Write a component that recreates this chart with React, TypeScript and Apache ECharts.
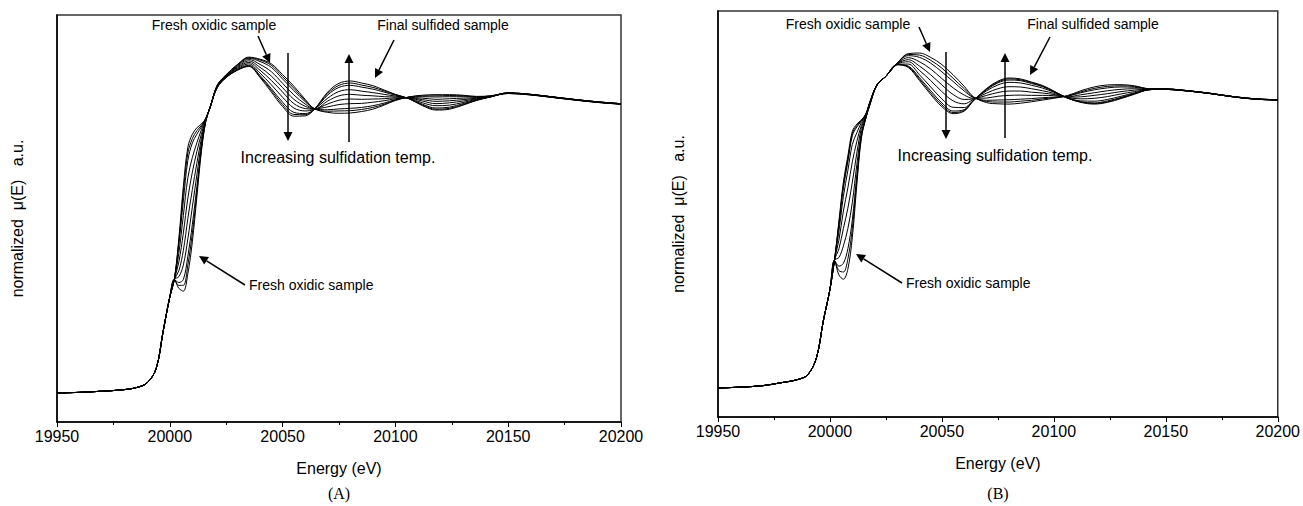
import React, { useEffect, useRef } from "react";
import * as echarts from "echarts";

// Energy grid (eV) shared by all spectra
const energies = [
  19950, 19960, 19970, 19978, 19985, 19990, 19994, 19997, 20000, 20002,
  20004, 20006, 20008, 20010, 20012, 20014, 20016, 20018, 20021, 20025,
  20030, 20035, 20040, 20045, 20050, 20055, 20060, 20064, 20070, 20075,
  20080, 20085, 20090, 20095, 20100, 20106, 20112, 20118, 20124, 20130,
  20136, 20142, 20150, 20160, 20170, 20180, 20190, 20200,
];

const xTicks = [19950, 20000, 20050, 20100, 20150, 20200];

// ---------- Panel A: normalized mu(E) ----------
const preEdgeA = [0.0, 0.002, 0.006, 0.01, 0.018, 0.035, 0.085, 0.21, 0.33, 0.39];
const aFresh = [...preEdgeA,
  0.36, 0.35, 0.41, 0.52, 0.674, 0.83, 0.935, 0.985, 1.058, 1.095,
  1.13, 1.155, 1.148, 1.132, 1.095, 1.055, 1.01, 0.978, 0.965, 0.962,
  0.963, 0.968, 0.976, 0.99, 1.006, 1.018, 1.024, 1.026, 1.026, 1.024,
  1.02, 1.022, 1.032, 1.027, 1.018, 1.009, 1.001, 0.995];
const aT0 = [...preEdgeA,
  0.37, 0.37, 0.44, 0.55, 0.69, 0.838, 0.937, 0.985, 1.058, 1.094,
  1.129, 1.153, 1.145, 1.127, 1.088, 1.048, 1.006, 0.978, 0.969, 0.97,
  0.971, 0.975, 0.982, 0.993, 1.007, 1.018, 1.022, 1.022, 1.023, 1.022,
  1.019, 1.021, 1.031, 1.026, 1.017, 1.008, 1.0, 0.994];
const aT1 = [...preEdgeA,
  0.38, 0.39, 0.47, 0.58, 0.71, 0.845, 0.938, 0.985, 1.057, 1.093,
  1.127, 1.151, 1.14, 1.12, 1.08, 1.04, 1.002, 0.978, 0.974, 0.977,
  0.979, 0.982, 0.988, 0.997, 1.009, 1.017, 1.019, 1.018, 1.019, 1.019,
  1.018, 1.021, 1.031, 1.026, 1.017, 1.008, 1.0, 0.994];
const aT2 = [...preEdgeA,
  0.4, 0.44, 0.53, 0.64, 0.75, 0.86, 0.94, 0.986, 1.056, 1.091,
  1.124, 1.147, 1.13, 1.105, 1.065, 1.025, 0.994, 0.977, 0.984, 0.992,
  0.995, 0.996, 1.0, 1.005, 1.012, 1.016, 1.014, 1.01, 1.012, 1.014,
  1.016, 1.02, 1.03, 1.025, 1.016, 1.007, 0.999, 0.993];
const aT3 = [...preEdgeA,
  0.42, 0.49, 0.6, 0.7, 0.79, 0.875, 0.941, 0.986, 1.055, 1.09,
  1.121, 1.142, 1.12, 1.09, 1.05, 1.01, 0.986, 0.977, 0.994, 1.007,
  1.011, 1.01, 1.011, 1.012, 1.015, 1.015, 1.009, 1.003, 1.005, 1.009,
  1.014, 1.02, 1.03, 1.025, 1.016, 1.007, 0.999, 0.993];
const aT4 = [...preEdgeA,
  0.45, 0.55, 0.67, 0.76, 0.83, 0.89, 0.942, 0.986, 1.054, 1.089,
  1.118, 1.137, 1.11, 1.075, 1.035, 0.995, 0.978, 0.976, 1.004, 1.022,
  1.027, 1.024, 1.022, 1.019, 1.018, 1.015, 1.004, 0.995, 0.998, 1.004,
  1.012, 1.019, 1.031, 1.026, 1.017, 1.008, 1.0, 0.994];
const aT5 = [...preEdgeA,
  0.48, 0.61, 0.74, 0.81, 0.86, 0.905, 0.943, 0.986, 1.052, 1.087,
  1.115, 1.132, 1.1, 1.06, 1.017, 0.98, 0.97, 0.976, 1.014, 1.037,
  1.043, 1.038, 1.033, 1.027, 1.021, 1.014, 0.998, 0.988, 0.99, 0.999,
  1.01, 1.018, 1.031, 1.026, 1.017, 1.008, 1.0, 0.994];
const aT6 = [...preEdgeA,
  0.51, 0.66, 0.8, 0.86, 0.89, 0.915, 0.944, 0.986, 1.051, 1.086,
  1.112, 1.127, 1.092, 1.047, 1.0, 0.965, 0.961, 0.975, 1.025, 1.051,
  1.058, 1.052, 1.045, 1.035, 1.024, 1.013, 0.993, 0.98, 0.983, 0.995,
  1.008, 1.018, 1.032, 1.027, 1.018, 1.009, 1.001, 0.995];
const aT7 = [...preEdgeA,
  0.52, 0.69, 0.825, 0.875, 0.902, 0.92, 0.945, 0.986, 1.05, 1.085,
  1.111, 1.125, 1.088, 1.041, 0.992, 0.958, 0.957, 0.975, 1.03, 1.058,
  1.066, 1.059, 1.051, 1.039, 1.026, 1.012, 0.99, 0.976, 0.979, 0.992,
  1.007, 1.018, 1.032, 1.027, 1.018, 1.009, 1.001, 0.995];
const aFinal = [...preEdgeA,
  0.53, 0.71, 0.845, 0.89, 0.912, 0.925, 0.945, 0.986, 1.05, 1.085,
  1.11, 1.123, 1.085, 1.035, 0.985, 0.952, 0.953, 0.975, 1.035, 1.065,
  1.073, 1.066, 1.057, 1.042, 1.027, 1.012, 0.988, 0.973, 0.976, 0.99,
  1.006, 1.018, 1.032, 1.027, 1.018, 1.009, 1.001, 0.995];

// ---------- Panel B: normalized mu(E) ----------
const preEdgeB = [0.0, 0.003, 0.008, 0.018, 0.028, 0.045, 0.105, 0.23, 0.34, 0.44];
const bFresh = [...preEdgeB,
  0.39, 0.375, 0.41, 0.52, 0.7, 0.86, 0.93, 0.98, 1.045, 1.075,
  1.12, 1.153, 1.155, 1.14, 1.115, 1.08, 1.04, 1.005, 0.984, 0.98,
  0.979, 0.982, 0.987, 0.993, 0.999, 1.008, 1.025, 1.038, 1.045, 1.046,
  1.042, 1.032, 1.03, 1.024, 1.015, 1.004, 0.996, 0.993];
const bT0 = [...preEdgeB,
  0.405, 0.4, 0.445, 0.55, 0.718, 0.865, 0.93, 0.981, 1.045, 1.075,
  1.12, 1.15, 1.148, 1.13, 1.103, 1.068, 1.032, 1.003, 0.988, 0.986,
  0.986, 0.989, 0.992, 0.997, 1.001, 1.007, 1.021, 1.033, 1.04, 1.042,
  1.04, 1.032, 1.03, 1.024, 1.015, 1.004, 0.996, 0.993];
const bT1 = [...preEdgeB,
  0.42, 0.43, 0.48, 0.58, 0.735, 0.87, 0.93, 0.982, 1.045, 1.075,
  1.119, 1.146, 1.14, 1.12, 1.09, 1.057, 1.024, 1.002, 0.992, 0.993,
  0.994, 0.996, 0.998, 1.001, 1.003, 1.006, 1.018, 1.028, 1.035, 1.038,
  1.037, 1.031, 1.03, 1.024, 1.015, 1.004, 0.996, 0.993];
const bT2 = [...preEdgeB,
  0.45, 0.49, 0.55, 0.64, 0.77, 0.88, 0.933, 0.984, 1.045, 1.075,
  1.118, 1.139, 1.125, 1.1, 1.067, 1.035, 1.01, 0.999, 1.0, 1.006,
  1.009, 1.01, 1.009, 1.009, 1.008, 1.004, 1.011, 1.018, 1.025, 1.03,
  1.032, 1.03, 1.03, 1.024, 1.015, 1.004, 0.996, 0.993];
const bT3 = [...preEdgeB,
  0.48, 0.55, 0.62, 0.71, 0.81, 0.895, 0.936, 0.986, 1.045, 1.075,
  1.117, 1.132, 1.11, 1.08, 1.045, 1.012, 0.995, 0.997, 1.009, 1.019,
  1.024, 1.024, 1.02, 1.017, 1.012, 1.003, 1.004, 1.009, 1.015, 1.022,
  1.027, 1.03, 1.03, 1.024, 1.015, 1.004, 0.996, 0.993];
const bT4 = [...preEdgeB,
  0.51, 0.61, 0.69, 0.78, 0.85, 0.905, 0.939, 0.987, 1.045, 1.075,
  1.116, 1.125, 1.095, 1.06, 1.022, 0.99, 0.98, 0.995, 1.017, 1.032,
  1.039, 1.038, 1.032, 1.025, 1.016, 1.002, 0.997, 0.999, 1.005, 1.014,
  1.022, 1.029, 1.031, 1.025, 1.016, 1.005, 0.997, 0.994];
const bT5 = [...preEdgeB,
  0.54, 0.66, 0.75, 0.84, 0.88, 0.915, 0.941, 0.988, 1.045, 1.075,
  1.116, 1.117, 1.08, 1.038, 0.997, 0.968, 0.967, 0.992, 1.025, 1.045,
  1.054, 1.052, 1.044, 1.034, 1.02, 1.001, 0.99, 0.989, 0.995, 1.006,
  1.018, 1.028, 1.031, 1.025, 1.016, 1.005, 0.997, 0.994];
const bT6 = [...preEdgeB,
  0.56, 0.69, 0.78, 0.87, 0.9, 0.92, 0.943, 0.989, 1.045, 1.075,
  1.115, 1.11, 1.07, 1.025, 0.983, 0.955, 0.96, 0.991, 1.029, 1.052,
  1.062, 1.06, 1.05, 1.039, 1.022, 1.0, 0.987, 0.983, 0.99, 1.002,
  1.016, 1.028, 1.031, 1.025, 1.016, 1.005, 0.997, 0.994];
const bT7 = [...preEdgeB,
  0.568, 0.7, 0.79, 0.878, 0.905, 0.922, 0.944, 0.99, 1.045, 1.075,
  1.115, 1.108, 1.065, 1.018, 0.976, 0.95, 0.957, 0.99, 1.031, 1.055,
  1.066, 1.063, 1.053, 1.041, 1.023, 1.0, 0.986, 0.981, 0.987, 1.0,
  1.014, 1.028, 1.031, 1.025, 1.016, 1.005, 0.997, 0.994];
const bFinal = [...preEdgeB,
  0.575, 0.71, 0.8, 0.885, 0.91, 0.924, 0.945, 0.99, 1.045, 1.075,
  1.115, 1.105, 1.06, 1.012, 0.97, 0.946, 0.955, 0.99, 1.033, 1.058,
  1.069, 1.066, 1.055, 1.043, 1.024, 1.0, 0.985, 0.979, 0.985, 0.998,
  1.013, 1.028, 1.031, 1.025, 1.016, 1.005, 0.997, 0.994];

const panelA = [aFresh, aT0, aT1, aT2, aT3, aT4, aT5, aT6, aT7, aFinal];
const panelB = [bFresh, bT0, bT1, bT2, bT3, bT4, bT5, bT6, bT7, bFinal];
const curveNames = ["Fresh oxidic", "T0", "T1", "T2", "T3", "T4", "T5", "T6", "T7", "Final sulfided"];

const SANS = "'Liberation Sans', Arial, Helvetica, sans-serif";
const SERIF = "'Liberation Serif', 'Times New Roman', serif";

function arrow(x1: number, y1: number, x2: number, y2: number, head = 9, half = 4.5) {
  const dx = x2 - x1, dy = y2 - y1;
  const L = Math.hypot(dx, dy);
  const ux = dx / L, uy = dy / L;
  const bx = x2 - ux * head, by = y2 - uy * head;
  const px = -uy, py = ux;
  return [
    { type: "line", silent: true, shape: { x1, y1, x2: bx, y2: by }, style: { stroke: "#000", lineWidth: 1.5 } },
    {
      type: "polygon", silent: true,
      shape: { points: [[x2, y2], [bx + px * half, by + py * half], [bx - px * half, by - py * half]] },
      style: { fill: "#000" },
    },
  ];
}

function label(text: string, x: number, y: number, size = 14, align = "center", font = SANS) {
  return {
    type: "text", silent: true, x, y,
    style: { text, fill: "#000", fontSize: size, fontFamily: font, align, verticalAlign: "middle" },
  };
}

function xAxisFor(gridIndex: number) {
  return {
    type: "value", gridIndex, min: xTicks[0], max: xTicks[xTicks.length - 1], interval: 50,
    name: "Energy (eV)", nameLocation: "middle", nameGap: 38,
    nameTextStyle: { fontSize: 16, fontFamily: SANS, color: "#000" },
    axisLine: { show: true, onZero: false, lineStyle: { color: "#000", width: 1.5 } },
    axisTick: { show: true, inside: false, length: 5, lineStyle: { color: "#000", width: 1 } },
    minorTick: { show: true, splitNumber: 2, length: 3, lineStyle: { color: "#000", width: 1 } },
    axisLabel: {
      fontSize: 16, fontFamily: SANS, color: "#000", margin: 6,
      formatter: (v: number) => String(v),
    },
    splitLine: { show: false },
  };
}

function yAxisFor(gridIndex: number) {
  return {
    type: "value", gridIndex, min: -0.1, max: 1.3,
    name: "normalized  \u03bc(E)   a.u.", nameLocation: "middle", nameGap: 32,
    nameTextStyle: { fontSize: 16, fontFamily: SANS, color: "#000" },
    axisLine: { show: true, onZero: false, lineStyle: { color: "#000", width: 1.5 } },
    axisTick: { show: false },
    axisLabel: { show: false },
    splitLine: { show: false },
  };
}

function seriesFor(curves: number[][], idx: number) {
  return curves.map((ys, k) => ({
    name: (idx === 0 ? "A " : "B ") + curveNames[k],
    type: "line",
    xAxisIndex: idx,
    yAxisIndex: idx,
    data: energies.map((e, i) => [e, ys[i]]),
    showSymbol: false,
    smooth: 0.35,
    silent: true,
    lineStyle: { color: "#000", width: 1 },
    z: 3,
  }));
}

export default function App() {
  const ref = useRef<HTMLDivElement>(null);
  useEffect(() => {
    const chart = echarts.init(ref.current!, null, { renderer: "svg" });
    const graphics: any[] = [
      // Panel A annotations
      label("Fresh oxidic sample", 214, 25),
      ...arrow(258, 36, 270, 63),
      label("Final sulfided sample", 443, 25),
      ...arrow(394, 40, 375, 78),
      ...arrow(288, 53, 288, 141),
      ...arrow(349, 142, 349, 54),
      label("Increasing sulfidation temp.", 338, 157, 16),
      label("Fresh oxidic sample", 249, 285, 14, "left"),
      ...arrow(245, 285, 199, 256),
      label("(A)", 339, 493, 16, "center", SERIF),
      // Panel B annotations
      label("Fresh oxidic sample", 848, 24),
      ...arrow(919, 27, 930, 52),
      label("Final sulfided sample", 1093, 24),
      ...arrow(1050, 37, 1030, 75),
      ...arrow(946, 52, 946, 139),
      ...arrow(1005, 138, 1005, 53),
      label("Increasing sulfidation temp.", 995, 155, 16),
      label("Fresh oxidic sample", 906, 283, 14, "left"),
      ...arrow(902, 283, 856, 254),
      label("(B)", 998, 493, 16, "center", SERIF),
    ];
    chart.setOption({
      animation: false,
      backgroundColor: "#fff",
      grid: [
        { left: 57, top: 15, width: 564, height: 407, show: true, borderColor: "#333", borderWidth: 1.5, backgroundColor: "transparent" },
        { left: 718, top: 11, width: 561, height: 406, show: true, borderColor: "#333", borderWidth: 1.5, backgroundColor: "transparent" },
      ],
      xAxis: [xAxisFor(0), xAxisFor(1)],
      yAxis: [yAxisFor(0), yAxisFor(1)],
      series: [...seriesFor(panelA, 0), ...seriesFor(panelB, 1)],
      graphic: graphics,
    });
    return () => chart.dispose();
  }, []);
  return (
    <div
      ref={ref}
      style={{ position: "fixed", left: 0, top: 0, width: 1303, height: 506, background: "#fff" }}
    />
  );
}
